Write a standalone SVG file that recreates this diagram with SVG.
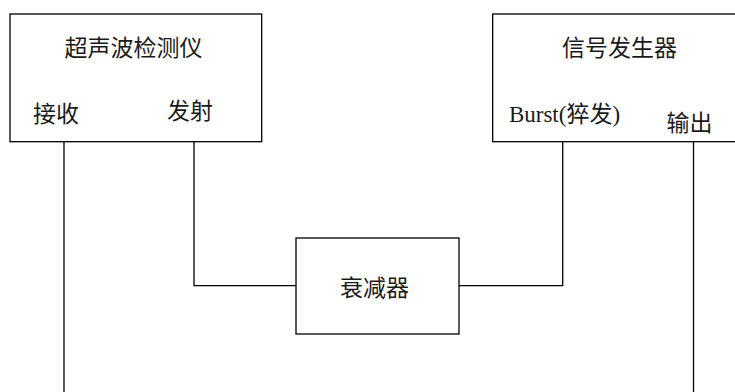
<svg xmlns="http://www.w3.org/2000/svg" width="735" height="392" viewBox="0 0 735 392">
<style>
.box{fill:#fff;stroke:#000;stroke-width:1.3}
.wire{fill:none;stroke:#000;stroke-width:1.3}
.t{font-family:"Noto Sans CJK SC",sans-serif;font-size:23px;fill:#1a1a1a;text-anchor:middle}
.b{font-family:"Liberation Serif","Noto Sans CJK SC",serif;font-size:23px;fill:#1a1a1a;text-anchor:middle}
</style>
<rect width="735" height="392" fill="#fff"/>
<g id="connectors">
<path class="wire" d="M64,141.7 V392"/>
<path class="wire" d="M194,141.7 V285.7 H296"/>
<path class="wire" d="M459,285.7 H562.7 V141.7"/>
<path class="wire" d="M693.5,141.7 V392"/>
</g>
<g id="detector">
<rect class="box" x="10" y="14" width="251.7" height="127.7"/>
<text class="t" x="133.5" y="55.5">超声波检测仪</text>
<text class="t" x="56" y="121.5">接收</text>
<text class="t" x="190" y="119">发射</text>
</g>
<g id="generator">
<rect class="box" x="492.7" y="14" width="260" height="127.7"/>
<text class="t" x="619.5" y="55.5">信号发生器</text>
<text class="b" x="564.5" y="121.7">Burst(猝发)</text>
<text class="t" x="689.5" y="130.5">输出</text>
</g>
<g id="attenuator">
<rect class="box" x="296" y="238" width="163" height="96"/>
<text class="t" x="374.5" y="295.5">衰减器</text>
</g>
</svg>
